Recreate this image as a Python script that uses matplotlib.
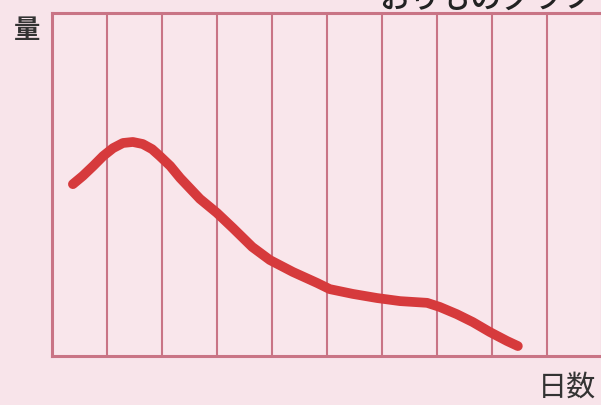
import matplotlib
matplotlib.use("Agg")
import matplotlib.pyplot as plt

plt.rcParams['font.family'] = ['Noto Sans CJK JP', 'DejaVu Sans']

# amount over days (grid units: 10 day columns, 10 amount units)
days = [0.38, 0.56, 0.75, 0.93, 1.11, 1.29, 1.47, 1.65, 1.82, 1.96, 2.15, 2.33,
        2.69, 3.00, 3.29, 3.64, 3.96, 4.38, 4.82, 5.05, 5.47, 5.91, 6.33, 6.82,
        7.05, 7.36, 7.65, 7.96, 8.27, 8.47]
amount = [5.01, 5.25, 5.54, 5.83, 6.06, 6.21, 6.24, 6.18, 6.03, 5.83, 5.54, 5.19,
          4.58, 4.17, 3.73, 3.18, 2.80, 2.45, 2.13, 1.95, 1.81, 1.69, 1.60, 1.55,
          1.43, 1.22, 0.99, 0.70, 0.44, 0.29]

title = "おりものグラフ"
y_label = "量"
x_label = "日数"
n_cols = 10

bg = '#f8e4ea'
grid_col = '#c97485'

fig = plt.figure(figsize=(6.01, 4.06), dpi=100, facecolor=bg)
ax = fig.add_axes([52 / 601, 1 - 357 / 406, 550 / 601, (357 - 14) / 406])
ax.set_facecolor('#f9e6eb')
ax.set_xlim(0, n_cols)
ax.set_ylim(0, 10)

for i in range(1, n_cols):
    ax.axvline(i, color=grid_col, lw=1.5, zorder=1)
for s in ax.spines.values():
    s.set_color(grid_col)
    s.set_linewidth(2.2)
ax.set_xticks([])
ax.set_yticks([])

ax.plot(days, amount, color='#d63a3c', lw=7, solid_capstyle='round',
        solid_joinstyle='round', zorder=3)

fig.text(27 / 601, 1 - 31 / 406, y_label, fontsize=19, fontweight='bold',
         color='#333333', ha='center', va='center')
fig.text(567 / 601, 1 - 388 / 406, x_label, fontsize=21, color='#333333',
         ha='center', va='center')
fig.text(486 / 601, 1 + 1 / 406, title, fontsize=22, fontweight='medium',
         color='#222222', ha='center', va='center')

fig.savefig('out.png', dpi=100, facecolor=bg)
